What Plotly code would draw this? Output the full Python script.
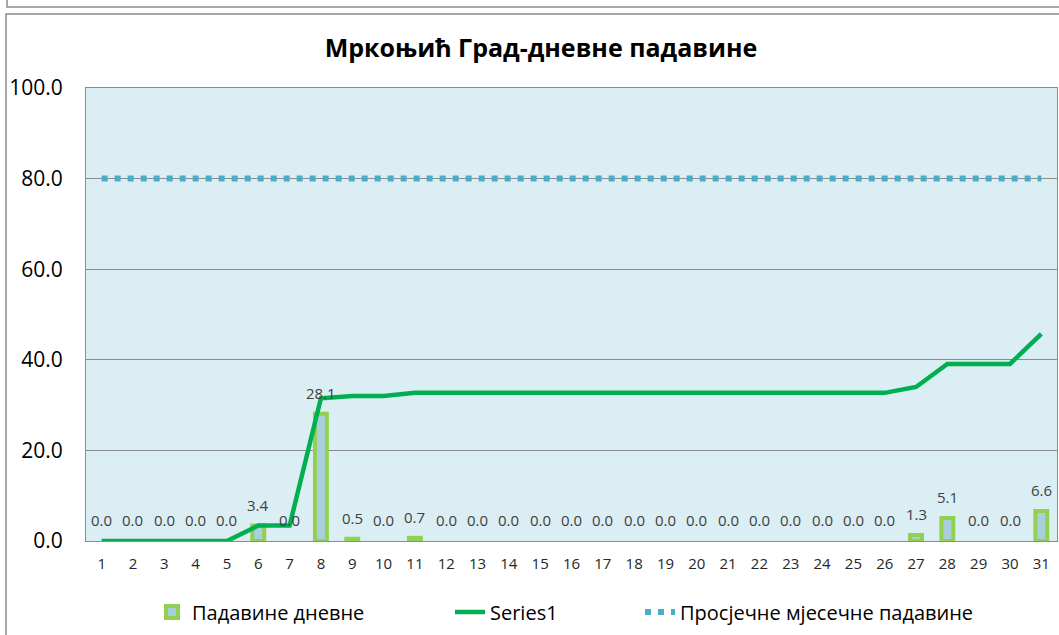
import plotly.graph_objects as go

days = [str(d) for d in range(1, 32)]
daily = [0.0, 0.0, 0.0, 0.0, 0.0, 3.4, 0.0, 28.1, 0.5, 0.0, 0.7, 0.0, 0.0, 0.0, 0.0, 0.0,
         0.0, 0.0, 0.0, 0.0, 0.0, 0.0, 0.0, 0.0, 0.0, 0.0, 1.3, 5.1, 0.0, 0.0, 6.6]
cumulative = [0.0, 0.0, 0.0, 0.0, 0.0, 3.4, 3.4, 31.5, 32.0, 32.0, 32.7, 32.7, 32.7, 32.7, 32.7, 32.7,
              32.7, 32.7, 32.7, 32.7, 32.7, 32.7, 32.7, 32.7, 32.7, 32.7, 34.0, 39.1, 39.1, 39.1, 45.7]
avg_monthly = [80.0, 80.0, 80.0, 80.0, 80.0, 80.0, 80.0, 80.0, 80.0, 80.0, 80.0, 80.0, 80.0, 80.0, 80.0, 80.0,
               80.0, 80.0, 80.0, 80.0, 80.0, 80.0, 80.0, 80.0, 80.0, 80.0, 80.0, 80.0, 80.0, 80.0, 80.0]
y_ticks = [0, 20, 40, 60, 80, 100]

FONT = "Open Sans"
W, H = 1059, 635
L, R, T, B = 86, 2, 88, 94
pw, ph = W - L - R, H - T - B


def px_x(p):
    return (p - L) / pw


def px_y(p):
    return (H - B - p) / ph


fig = go.Figure()
fig.add_trace(go.Bar(
    x=days, y=[v if v > 0 else None for v in daily], name="Падавине дневне", width=0.38,
    marker=dict(color="#A9CFDF", line=dict(color="#92D050", width=4)),
    legend="legend",
))
fig.add_trace(go.Scatter(
    x=days, y=cumulative, name="Series1", mode="lines",
    line=dict(color="#00B050", width=4.5), legend="legend2",
))
fig.add_trace(go.Scatter(
    x=days, y=avg_monthly, name="Просјечне мјесечне падавине", mode="lines",
    line=dict(color="#4BACC6", width=6, dash="6px,7px"), legend="legend3",
))

# data labels above the bars (category axis: annotation x is the category index)
annotations = [
    dict(x=i, y=v, xref="x", yref="y", text=f"{v:.1f}", showarrow=False,
         yanchor="bottom", yshift=9, font=dict(family=FONT, size=15, color="#404040"))
    for i, v in enumerate(daily)
]

leg_common = dict(orientation="h", yanchor="middle", xanchor="left", y=px_y(612),
                  font=dict(family=FONT, size=20, color="#000000"), bgcolor="rgba(0,0,0,0)")

shapes = [
    dict(type="rect", xref="paper", yref="paper", x0=px_x(7), x1=px_x(1070), y0=px_y(7), y1=px_y(-10),
         line=dict(color="#8C8C8C", width=1.5), fillcolor="rgba(0,0,0,0)", layer="below"),
    dict(type="rect", xref="paper", yref="paper", x0=px_x(6), x1=px_x(1070), y0=px_y(650), y1=px_y(14),
         line=dict(color="#8C8C8C", width=1.5), fillcolor="rgba(0,0,0,0)", layer="below"),
]

fig.update_layout(
    width=W, height=H,
    margin=dict(l=L, r=R, t=T, b=B),
    paper_bgcolor="white", plot_bgcolor="#DBEEF4",
    title=dict(text="<b>Мркоњић Град-дневне падавине</b>", xref="container", x=541 / W,
               xanchor="center", yref="container", y=1 - 48 / H, yanchor="middle",
               font=dict(family=FONT, size=25, color="#000000")),
    showlegend=True,
    legend=dict(leg_common, x=px_x(152)),
    legend2=dict(leg_common, x=px_x(450)),
    legend3=dict(leg_common, x=px_x(640)),
    bargap=0.5,
    shapes=shapes,
    annotations=annotations,
    xaxis=dict(type="category", range=[-0.5, 30.5], showgrid=False,
               showline=True, linecolor="#8C8C8C", linewidth=1, mirror=True,
               ticks="outside", ticklen=9, tickcolor="rgba(0,0,0,0)",
               tickfont=dict(family=FONT, size=15, color="#262626")),
    yaxis=dict(range=[0, 100], tickvals=y_ticks, tickformat=".1f",
               showgrid=True, gridcolor="#8C8C8C", gridwidth=1,
               showline=True, linecolor="#8C8C8C", linewidth=1, mirror=True,
               zeroline=False, ticks="outside", ticklen=18, tickcolor="rgba(0,0,0,0)",
               tickfont=dict(family=FONT, size=21, color="#000000")),
)

fig.write_html("out.html", config={"displayModeBar": False},
               post_script="document.body.style.margin='0';document.body.style.overflow='hidden';")
